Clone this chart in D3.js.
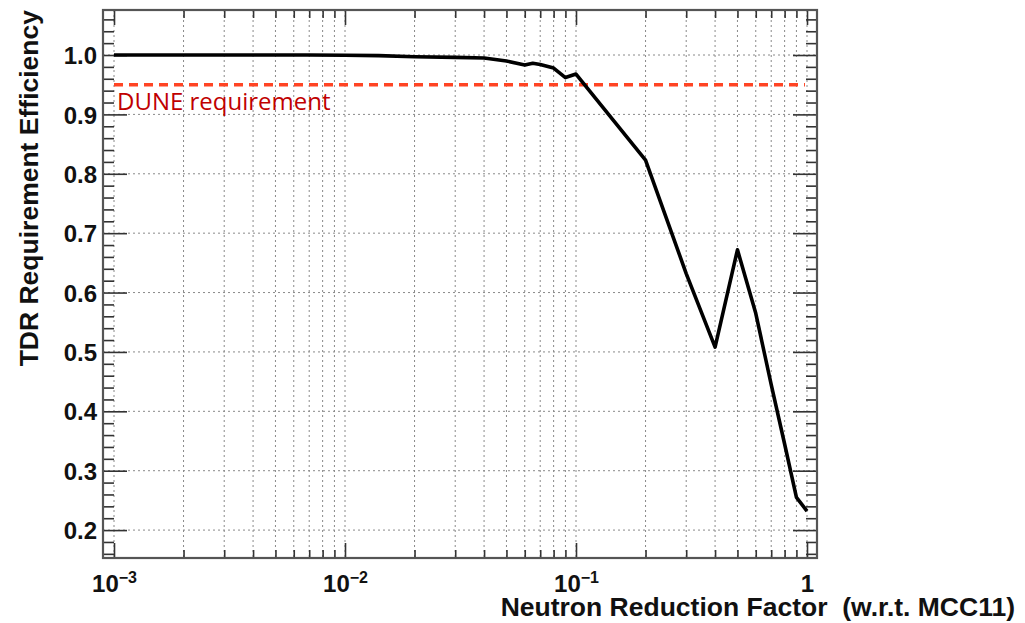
<!DOCTYPE html>
<html>
<head>
<meta charset="utf-8">
<script src="https://cdn.jsdelivr.net/npm/d3@7"></script>
<style>
  body { margin: 0; background: #fff; }
  svg { display: block; }
  .label { font-family: "Liberation Sans", Arial, sans-serif; font-weight: bold; fill: #111; }
</style>
</head>
<body>
<div id="graph"></div>
<script>
// datos de la curva (factor de reducción de neutrones vs eficiencia)
var reductionFactor = [0.001, 0.002, 0.003, 0.005, 0.007, 0.01, 0.014, 0.02, 0.03, 0.04, 0.05, 0.06, 0.065, 0.07, 0.08, 0.09, 0.1, 0.2, 0.3, 0.4, 0.5, 0.6, 0.7, 0.8, 0.9, 1.0];
var efficiency = [1.0, 1.0, 1.0, 1.0, 1.0, 0.9995, 0.999, 0.997, 0.996, 0.995, 0.99, 0.983, 0.986, 0.984, 0.978, 0.962, 0.968, 0.823, 0.632, 0.508, 0.672, 0.565, 0.445, 0.345, 0.255, 0.232];

// línea de requisito
var requirement = 0.95;
var requirementLabel = "DUNE requirement";

// ejes
var yMajorTicks = [0.2, 0.3, 0.4, 0.5, 0.6, 0.7, 0.8, 0.9, 1.0];
var xDecades = [0.001, 0.01, 0.1, 1];
var xDecadeLabels = [["10", "\u22123"], ["10", "\u22122"], ["10", "\u22121"], ["1", ""]];
var xTitle = "Neutron Reduction Factor  (w.r.t. MCC11)";
var yTitle = "TDR Requirement Efficiency";

var width = 1025;
var height = 623;
var mLeft = 103, mRight = 817, mTop = 10, mBottom = 558;

var svg = d3.select('#graph')
    .append('svg')
    .attr('width', width)
    .attr('height', height);

// escalas: 1e-3 en x=114, una década = 231 px
var decade = 231;
var scaleX = d3.scaleLog()
    .domain([0.001 * Math.pow(10, -(114 - mLeft) / decade), Math.pow(10, (mRight - 807) / decade)])
    .range([mLeft, mRight]);
var scaleY = d3.scaleLinear()
    .domain([0.153, 1.0758])
    .range([mBottom, mTop]);

// ticks menores del eje x (2..9 por década)
var xMinorTicks = [];
[0.001, 0.01, 0.1].forEach(function (d) {
    for (var k = 2; k <= 9; k++) xMinorTicks.push(d * k);
});
// ticks menores del eje y cada 0.02
var yMinorTicks = d3.range(8, 54)
    .filter(function (i) { return i % 5 != 0; })
    .map(function (i) { return i * 0.02; });

// rejilla punteada
var grid = svg.append('g').attr('stroke', '#8a8a8a').attr('stroke-width', 1).attr('stroke-dasharray', '2,3');
grid.selectAll('.vgrid')
    .data(xDecades.concat(xMinorTicks))
    .enter()
    .append('line')
    .attr('x1', function (d) { return scaleX(d); })
    .attr('x2', function (d) { return scaleX(d); })
    .attr('y1', mTop)
    .attr('y2', mBottom);
grid.selectAll('.hgrid')
    .data(yMajorTicks)
    .enter()
    .append('line')
    .attr('x1', mLeft)
    .attr('x2', mRight)
    .attr('y1', function (d) { return scaleY(d); })
    .attr('y2', function (d) { return scaleY(d); });

// ejes con ticks hacia dentro
function styleAxis(g) {
    g.select('.domain').remove();
    g.selectAll('.tick line').attr('stroke', '#333').attr('stroke-width', 1.6);
}

svg.append('g').attr('transform', 'translate(0,' + mBottom + ')')
    .call(d3.axisBottom(scaleX).tickValues(xMinorTicks).tickSize(-8).tickFormat(''))
    .call(styleAxis);
svg.append('g').attr('transform', 'translate(0,' + mTop + ')')
    .call(d3.axisTop(scaleX).tickValues(xMinorTicks).tickSize(-8).tickFormat(''))
    .call(styleAxis);
svg.append('g').attr('transform', 'translate(0,' + mTop + ')')
    .call(d3.axisTop(scaleX).tickValues(xDecades).tickSize(-15).tickFormat(''))
    .call(styleAxis);

var xAxisMajor = svg.append('g')
    .attr('transform', 'translate(0,' + mBottom + ')')
    .call(d3.axisBottom(scaleX).tickValues(xDecades).tickSize(-15).tickFormat(''))
    .call(styleAxis);

// etiquetas 10^n con superíndice
xAxisMajor.selectAll('.tick text')
    .attr('class', 'label')
    .attr('y', 34)
    .attr('dy', 0)
    .style('font-size', '24px')
    .attr('text-anchor', 'middle')
    .each(function (d, i) {
        var t = d3.select(this);
        t.append('tspan').text(xDecadeLabels[i][0]);
        if (xDecadeLabels[i][1]) {
            t.append('tspan')
                .attr('dy', -9)
                .style('font-size', '16px')
                .text(xDecadeLabels[i][1]);
        }
    });

svg.append('g').attr('transform', 'translate(' + mLeft + ',0)')
    .call(d3.axisLeft(scaleY).tickValues(yMinorTicks).tickSize(-11).tickFormat(''))
    .call(styleAxis);
svg.append('g').attr('transform', 'translate(' + mRight + ',0)')
    .call(d3.axisRight(scaleY).tickValues(yMinorTicks).tickSize(-11).tickFormat(''))
    .call(styleAxis);
svg.append('g').attr('transform', 'translate(' + mRight + ',0)')
    .call(d3.axisRight(scaleY).tickValues(yMajorTicks).tickSize(-24).tickFormat(''))
    .call(styleAxis);

var yAxis = svg.append('g')
    .attr('transform', 'translate(' + mLeft + ',0)')
    .call(d3.axisLeft(scaleY).tickValues(yMajorTicks).tickSize(-24).tickFormat(d3.format('.1f')))
    .call(styleAxis);
yAxis.selectAll('.tick text')
    .attr('class', 'label')
    .attr('x', -6)
    .attr('dy', '0.36em')
    .style('font-size', '24px');

// marco
svg.append('rect')
    .attr('x', mLeft)
    .attr('y', mTop)
    .attr('width', mRight - mLeft)
    .attr('height', mBottom - mTop)
    .attr('fill', 'none')
    .attr('stroke', '#555')
    .attr('stroke-width', 2.2);

// línea de requisito DUNE
svg.append('line')
    .attr('x1', scaleX(0.001))
    .attr('x2', scaleX(0.98))
    .attr('y1', scaleY(requirement))
    .attr('y2', scaleY(requirement))
    .attr('stroke', '#ff4424')
    .attr('stroke-width', 3.5)
    .attr('stroke-dasharray', '9,6');

svg.append('text')
    .attr('x', scaleX(0.001) + 3)
    .attr('y', scaleY(requirement) + 25)
    .style('font-family', '"Open Sans", "Noto Sans", sans-serif')
    .style('font-size', '24px')
    .attr('fill', '#c00000')
    .text(requirementLabel);

// curva
var points = reductionFactor.map(function (x, i) { return [x, efficiency[i]]; });
var line = d3.line()
    .x(function (d) { return scaleX(d[0]); })
    .y(function (d) { return scaleY(d[1]); });

svg.append('path')
    .datum(points)
    .attr('d', line)
    .attr('fill', 'none')
    .attr('stroke', '#000')
    .attr('stroke-width', 3.6)
    .attr('stroke-linejoin', 'round');

// títulos de los ejes
svg.append('text')
    .attr('class', 'label')
    .attr('x', 1015)
    .attr('y', 616)
    .attr('text-anchor', 'end')
    .style('font-size', '26.5px')
    .style('white-space', 'pre')
    .text(xTitle);

svg.append('text')
    .attr('class', 'label')
    .attr('transform', 'translate(38,' + mTop + ') rotate(-90)')
    .attr('text-anchor', 'end')
    .style('font-size', '26.5px')
    .text(yTitle);
</script>
</body>
</html>
